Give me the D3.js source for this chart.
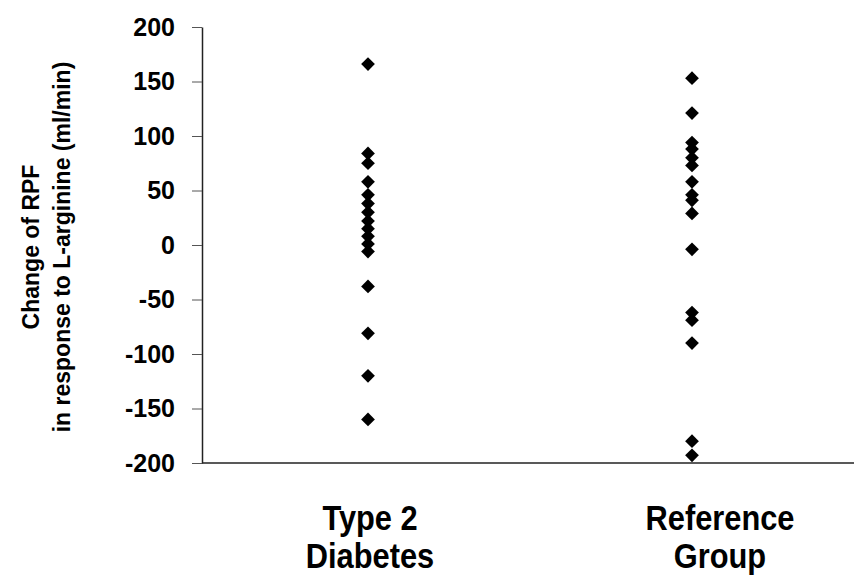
<!DOCTYPE html>
<html lang="en">
<head>
    <meta charset="UTF-8">
    <title>Change of RPF</title>
    <script src="https://d3js.org/d3.v7.min.js"></script>
    <style>
        body { margin: 0; background: #fff; }
        svg text { font-family: "Liberation Sans", Arial, sans-serif; font-weight: bold; fill: #000; }
    </style>
</head>
<body>
    <div id="chart"></div>
    <script>
        // Data
        const groups = ["Type 2 Diabetes", "Reference Group"];
        const groupLines = [["Type 2", "Diabetes"], ["Reference", "Group"]];
        const diabetesValues = [166, 84, 75, 58, 46, 38, 30, 22, 15, 8, 1, -6, -38, -81, -120, -160];
        const referenceValues = [153, 121, 94, 88, 80, 73, 58, 46, 41, 29, -4, -62, -69, -90, -180, -193];
        const yTicks = [-200, -150, -100, -50, 0, 50, 100, 150, 200];

        const width = 854, height = 576;
        const margin = { top: 27, right: 0, bottom: 113, left: 202 };
        const plotH = height - margin.top - margin.bottom;

        const svg = d3.select("#chart").append("svg")
            .attr("width", width)
            .attr("height", height);

        const g = svg.append("g")
            .attr("transform", "translate(" + margin.left + "," + margin.top + ")");

        // scales
        const xScale = d3.scalePoint()
            .domain(groups)
            .range([166, 490]);

        const yScale = d3.scaleLinear()
            .domain([-200, 200])
            .range([plotH, 0]);

        // y axis (plain hyphen for negatives, like the original)
        const yAxis = g.append("g")
            .call(d3.axisLeft(yScale)
                .tickValues(yTicks)
                .tickFormat(d => String(d))
                .tickSize(10)
                .tickPadding(17)
                .tickSizeOuter(0));
        yAxis.select(".domain").attr("stroke", "#222").attr("stroke-width", 1.5);
        yAxis.selectAll(".tick line").attr("stroke", "#555").attr("stroke-width", 1);
        yAxis.selectAll(".tick text")
            .style("font-size", "25px")
            .style("font-family", "'Liberation Sans', Arial, sans-serif")
            .style("font-weight", "bold")
            .attr("fill", "#000");

        // x axis line at the bottom
        g.append("line")
            .attr("x1", 0)
            .attr("x2", width - margin.left)
            .attr("y1", yScale(-200))
            .attr("y2", yScale(-200))
            .attr("stroke", "#222")
            .attr("stroke-width", 1.5);

        // diamonds
        const diamond = d3.symbol().type(d3.symbolDiamond2).size(120);
        const series = [
            { group: groups[0], values: diabetesValues },
            { group: groups[1], values: referenceValues }
        ];
        series.forEach(function(s) {
            g.selectAll(null)
                .data(s.values)
                .enter()
                .append("path")
                .attr("d", diamond)
                .attr("transform", d => "translate(" + xScale(s.group) + "," + yScale(d) + ")")
                .attr("fill", "#000");
        });

        // category labels
        const labelOffset = [2, 28];
        groups.forEach(function(grp, i) {
            const t = g.append("text")
                .attr("text-anchor", "middle")
                .attr("transform", "translate(" + (xScale(grp) + labelOffset[i]) + "," + (plotH + 67) + ") scale(0.88,1)")
                .style("font-size", "35px");
            groupLines[i].forEach(function(line, j) {
                t.append("tspan")
                    .attr("x", 0)
                    .attr("dy", j === 0 ? 0 : 38)
                    .text(line);
            });
        });

        // y axis title
        const title = svg.append("text")
            .attr("text-anchor", "middle")
            .attr("transform", "translate(31,247) rotate(-90)")
            .style("font-size", "23px");
        title.append("tspan").attr("x", 0).attr("dy", "0.35em").text("Change of RPF");
        title.append("tspan").attr("x", 0).attr("dy", 31).text("in response to L-arginine (ml/min)");
    </script>
</body>
</html>
